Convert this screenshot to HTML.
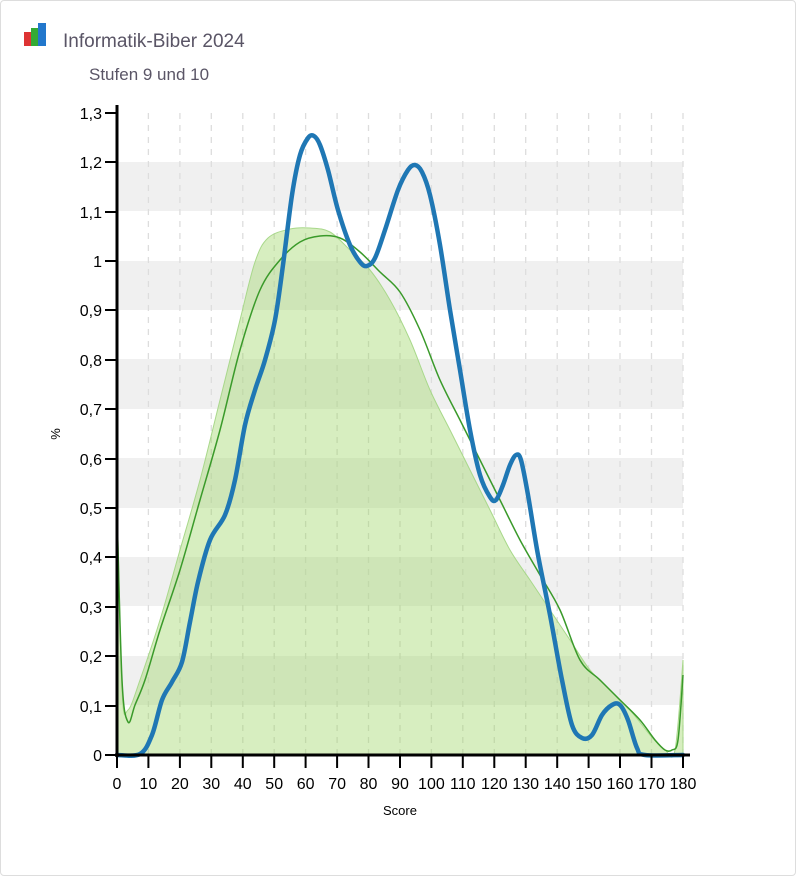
<!DOCTYPE html>
<html><head><meta charset="utf-8"><style>
body{margin:0;background:#fff;}
.card{position:absolute;left:0;top:0;width:794px;height:874px;border:1px solid #ddd;border-radius:4px;background:#fff;}
</style></head><body>
<div class="card"></div>
<svg width="796" height="876" style="position:absolute;left:0;top:0" font-family="Liberation Sans, sans-serif">
<rect x="24" y="32" width="7" height="14" fill="#d33"/>
<rect x="31" y="28" width="7" height="18" fill="#3a3"/>
<rect x="38" y="23" width="8" height="23" fill="#27c"/>
<text x="63" y="47" font-size="19" fill="#5a5566">Informatik-Biber 2024</text>
<text x="89" y="80" font-size="17" fill="#5a5566">Stufen 9 und 10</text>
<g fill="#f0f0f0">
<rect x="117" y="656" width="566" height="49"/>
<rect x="117" y="557" width="566" height="49"/>
<rect x="117" y="458" width="566" height="50"/>
<rect x="117" y="359" width="566" height="50"/>
<rect x="117" y="261" width="566" height="49"/>
<rect x="117" y="162" width="566" height="49"/>
</g>
<g stroke="#ddd" stroke-dasharray="6,6" stroke-width="1.3">
<line x1="148.4" y1="113" x2="148.4" y2="755"/><line x1="179.9" y1="113" x2="179.9" y2="755"/><line x1="211.3" y1="113" x2="211.3" y2="755"/><line x1="242.8" y1="113" x2="242.8" y2="755"/><line x1="274.2" y1="113" x2="274.2" y2="755"/><line x1="305.6" y1="113" x2="305.6" y2="755"/><line x1="337.1" y1="113" x2="337.1" y2="755"/><line x1="368.5" y1="113" x2="368.5" y2="755"/><line x1="400" y1="113" x2="400" y2="755"/><line x1="431.4" y1="113" x2="431.4" y2="755"/><line x1="462.8" y1="113" x2="462.8" y2="755"/><line x1="494.3" y1="113" x2="494.3" y2="755"/><line x1="525.7" y1="113" x2="525.7" y2="755"/><line x1="557.2" y1="113" x2="557.2" y2="755"/><line x1="588.6" y1="113" x2="588.6" y2="755"/><line x1="620" y1="113" x2="620" y2="755"/><line x1="651.5" y1="113" x2="651.5" y2="755"/><line x1="683" y1="113" x2="683" y2="755"/>
</g>
<path id="fill" fill="rgba(150,210,90,0.38)" stroke="#a8d88a" stroke-width="1"/>
<path id="green" fill="none" stroke="#3a9a2a" stroke-width="1.5"/>
<path id="blue" fill="none" stroke="#1f77b4" stroke-width="4.5" stroke-linecap="round"/>
<g stroke="#000">
<line x1="117" y1="105" x2="117" y2="757" stroke-width="3"/>
<line x1="115" y1="755" x2="690" y2="755" stroke-width="3"/>
<g stroke-width="2">
<line x1="105" y1="755" x2="117" y2="755"/><line x1="105" y1="706" x2="117" y2="706"/><line x1="105" y1="656" x2="117" y2="656"/><line x1="105" y1="607" x2="117" y2="607"/><line x1="105" y1="557" x2="117" y2="557"/><line x1="105" y1="508" x2="117" y2="508"/><line x1="105" y1="459" x2="117" y2="459"/><line x1="105" y1="409" x2="117" y2="409"/><line x1="105" y1="360" x2="117" y2="360"/><line x1="105" y1="310" x2="117" y2="310"/><line x1="105" y1="261" x2="117" y2="261"/><line x1="105" y1="212" x2="117" y2="212"/><line x1="105" y1="162" x2="117" y2="162"/><line x1="105" y1="113" x2="117" y2="113"/>
<line x1="117" y1="755" x2="117" y2="768"/><line x1="148.4" y1="755" x2="148.4" y2="768"/><line x1="179.9" y1="755" x2="179.9" y2="768"/><line x1="211.3" y1="755" x2="211.3" y2="768"/><line x1="242.8" y1="755" x2="242.8" y2="768"/><line x1="274.2" y1="755" x2="274.2" y2="768"/><line x1="305.6" y1="755" x2="305.6" y2="768"/><line x1="337.1" y1="755" x2="337.1" y2="768"/><line x1="368.5" y1="755" x2="368.5" y2="768"/><line x1="400" y1="755" x2="400" y2="768"/><line x1="431.4" y1="755" x2="431.4" y2="768"/><line x1="462.8" y1="755" x2="462.8" y2="768"/><line x1="494.3" y1="755" x2="494.3" y2="768"/><line x1="525.7" y1="755" x2="525.7" y2="768"/><line x1="557.2" y1="755" x2="557.2" y2="768"/><line x1="588.6" y1="755" x2="588.6" y2="768"/><line x1="620" y1="755" x2="620" y2="768"/><line x1="651.5" y1="755" x2="651.5" y2="768"/><line x1="683" y1="755" x2="683" y2="768"/>
</g></g>
<g font-size="16" text-anchor="end" fill="#000">
<text x="102" y="761">0</text><text x="102" y="712">0,1</text><text x="102" y="662">0,2</text><text x="102" y="613">0,3</text><text x="102" y="563">0,4</text><text x="102" y="514">0,5</text><text x="102" y="465">0,6</text><text x="102" y="415">0,7</text><text x="102" y="366">0,8</text><text x="102" y="316">0,9</text><text x="102" y="267">1</text><text x="102" y="218">1,1</text><text x="102" y="168">1,2</text><text x="102" y="119">1,3</text>
</g>
<g font-size="16" text-anchor="middle" fill="#000">
<text x="117" y="789">0</text><text x="148.4" y="789">10</text><text x="179.9" y="789">20</text><text x="211.3" y="789">30</text><text x="242.8" y="789">40</text><text x="274.2" y="789">50</text><text x="305.6" y="789">60</text><text x="337.1" y="789">70</text><text x="368.5" y="789">80</text><text x="400" y="789">90</text><text x="431.4" y="789">100</text><text x="462.8" y="789">110</text><text x="494.3" y="789">120</text><text x="525.7" y="789">130</text><text x="557.2" y="789">140</text><text x="588.6" y="789">150</text><text x="620" y="789">160</text><text x="651.5" y="789">170</text><text x="683" y="789">180</text>
</g>
<text x="400" y="815" font-size="13" text-anchor="middle">Score</text>
<text x="60" y="434" font-size="13" text-anchor="middle" transform="rotate(-90 60 434)">%</text>
</svg>
<script>
function smooth(p){
  var d="M"+p[0][0]+","+p[0][1];
  for(var i=0;i<p.length-1;i++){
    var p0=p[i-1]||p[i],p1=p[i],p2=p[i+1],p3=p[i+2]||p2;
    var c1x=p1[0]+(p2[0]-p0[0])/6,c1y=p1[1]+(p2[1]-p0[1])/6;
    var c2x=p2[0]-(p3[0]-p1[0])/6,c2y=p2[1]-(p3[1]-p1[1])/6;
    d+=" C"+c1x.toFixed(1)+","+c1y.toFixed(1)+" "+c2x.toFixed(1)+","+c2y.toFixed(1)+" "+p2[0]+","+p2[1];
  }
  return d;
}
var F=[[117,490],[122,690],[128,710],[140,680],[160,620],[180,550],[200,480],[220,400],[240,320],[255,262],[268,238],[290,229],[310,228],[330,232],[350,250],[370,270],[390,300],[410,340],[430,390],[450,430],[470,470],[490,510],[510,550],[530,580],[550,610],[570,640],[590,670],[610,690],[630,710],[650,735],[665,750],[675,750],[683,660]];
var G=[[117,510],[122,680],[128,722],[135,705],[145,680],[160,630],[180,570],[200,500],[220,430],[240,350],[260,290],[280,260],[300,242],[320,236],[340,238],[360,252],[380,272],[400,292],[420,330],[440,380],[460,420],[480,460],[500,500],[520,540],[540,575],[560,610],[580,660],[600,680],[620,700],[640,720],[655,740],[665,750],[672,750],[678,740],[683,675]];
var B=[[117,755],[140,754],[152,735],[162,700],[172,682],[182,662],[190,622],[198,582],[210,540],[225,515],[235,480],[245,425],[255,390],[265,360],[275,320],[283,265],[292,195],[300,155],[308,138],[314,136],[320,145],[328,170],[338,210],[350,245],[360,262],[367,266],[375,258],[385,230],[398,190],[408,170],[415,165],[422,172],[430,195],[440,245],[450,310],[460,370],[470,430],[480,475],[490,497],[496,500],[503,485],[510,465],[516,455],[521,460],[528,495],[538,555],[550,615],[562,680],[572,725],[582,738],[592,735],[602,715],[612,705],[620,705],[628,720],[637,748],[645,755],[683,755]];
document.getElementById("fill").setAttribute("d",smooth(F)+" L683,755 L117,755 Z");
document.getElementById("green").setAttribute("d",smooth(G));
document.getElementById("blue").setAttribute("d",smooth(B));
</script>
</body></html>
